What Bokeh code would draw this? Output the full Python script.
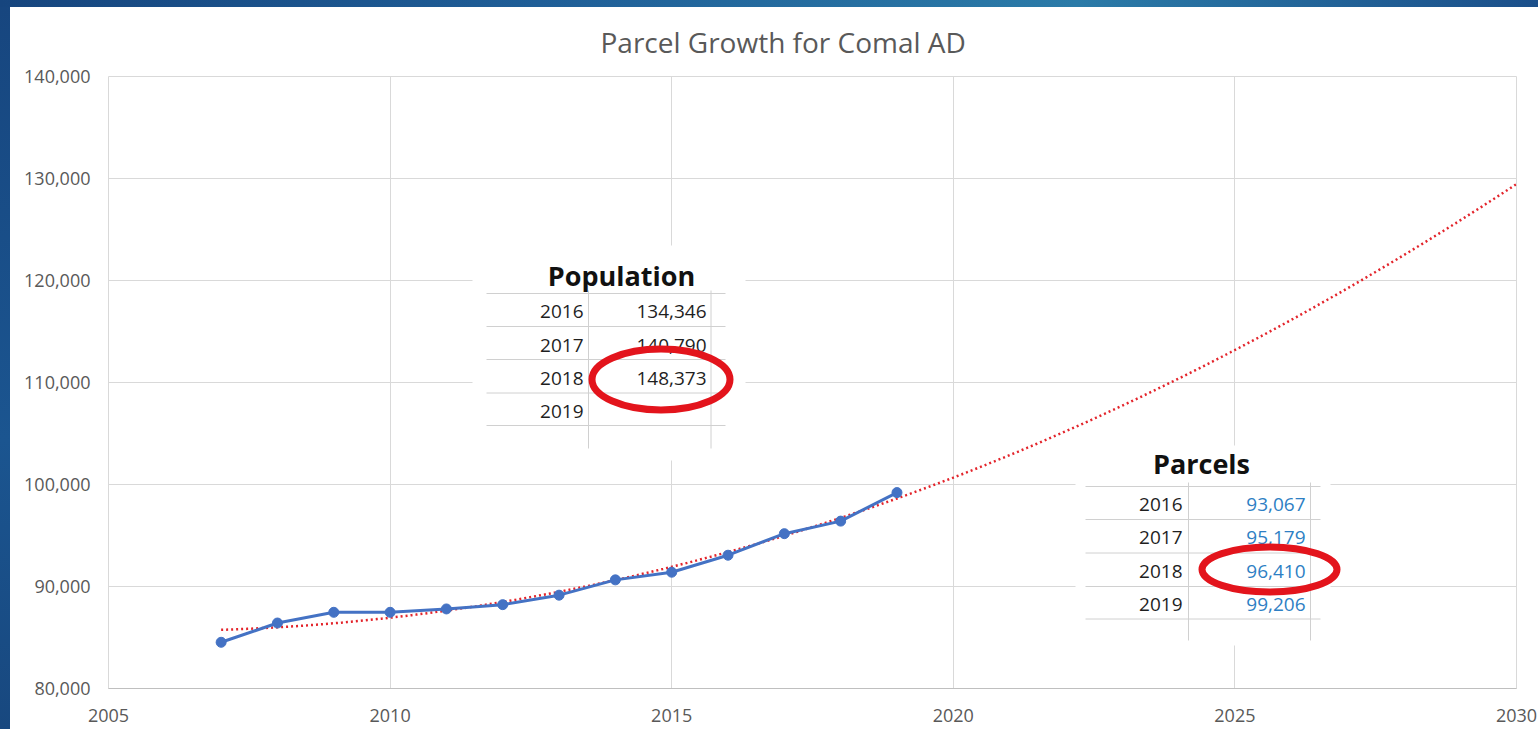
import numpy as np
from bokeh.plotting import figure
from bokeh.models import Range1d, FixedTicker, NumeralTickFormatter, Div
from bokeh.layouts import column, row
from bokeh.core.properties import value
from bokeh.embed import file_html
from bokeh.resources import INLINE

# ---------------- data ----------------
years = [2007, 2008, 2009, 2010, 2011, 2012, 2013, 2014, 2015, 2016, 2017, 2018, 2019]
parcels = [84530, 86420, 87470, 87470, 87800, 88220, 89150, 90650, 91400, 93067, 95179, 96410, 99206]

x_ticks = [2005, 2010, 2015, 2020, 2025, 2030]
y_ticks = [80000, 90000, 100000, 110000, 120000, 130000, 140000]

table_years = ["2016", "2017", "2018", "2019"]
population_vals = ["134,346", "140,790", "148,373", ""]
parcel_vals = ["93,067", "95,179", "96,410", "99,206"]

title_text = "Parcel Growth for Comal AD"

# polynomial (order 2) trendline fitted to the series, extended to 2030
coef = np.polyfit(years, parcels, 2)
trend_x = np.linspace(years[0], 2030, 300)
trend_y = np.polyval(coef, trend_x)

# ---------------- layout ----------------
OX, OY = 10, 7                 # figure origin on the page (after the blue strips)
W, H = 1528, 722
FL, FR, FT, FB = 108, 1516, 76, 688   # frame edges in page px


def X(px):
    return 2005 + (px - FL) * 25.0 / (FR - FL)


def Y(py):
    return 80000 + (FB - py) * 60000.0 / (FB - FT)


FONT = "Open Sans"

p = figure(width=W, height=H,
           x_range=Range1d(2005, 2030), y_range=Range1d(80000, 140000),
           output_backend="svg", toolbar_location=None,
           min_border_left=FL - OX, min_border_right=W - (FR - OX),
           min_border_top=FT - OY, min_border_bottom=H - (FB - OY),
           background_fill_color="white", border_fill_color="white",
           title=title_text)
p.outline_line_color = "#d9d9d9"

p.title.align = "left"
p.title.offset = 600 - FL
p.title.standoff = 28
p.title.vertical_align = "top"
p.title.text_font = FONT
p.title.text_font_size = "28px"
p.title.text_font_style = "normal"
p.title.text_color = "#595959"

p.xaxis.ticker = FixedTicker(ticks=x_ticks)
p.yaxis.ticker = FixedTicker(ticks=y_ticks)
p.xgrid.ticker = FixedTicker(ticks=x_ticks)
p.ygrid.ticker = FixedTicker(ticks=y_ticks)
p.xaxis.formatter = NumeralTickFormatter(format="0")
p.yaxis.formatter = NumeralTickFormatter(format="0,0")
for ax in (p.xaxis, p.yaxis):
    ax.major_tick_line_color = None
    ax.minor_tick_line_color = None
    ax.major_label_text_font = FONT
    ax.major_label_text_font_size = "18px"
    ax.major_label_text_color = "#595959"
p.xaxis.axis_line_color = "#bfbfbf"
p.yaxis.axis_line_color = None
p.xaxis.major_label_standoff = 14
p.yaxis.major_label_standoff = 12
p.xgrid.grid_line_color = "#d9d9d9"
p.ygrid.grid_line_color = "#d9d9d9"

# series + trendline
p.line(trend_x, trend_y, line_color="#e3242b", line_width=2.5, line_dash="2 3")
p.line(years, parcels, line_color="#4472c4", line_width=3)
p.scatter(years, parcels, size=10, fill_color="#4472c4", line_color="#4472c4")


def table(bg, title_xy, hlines, hx, vlines, vy, row_y, year_right, val_right,
          vals, val_color, ell, label):
    # white background (covers chart gridlines)
    p.quad(left=[X(bg[0])], right=[X(bg[1])], bottom=[Y(bg[3])], top=[Y(bg[2])],
           fill_color="white", line_color=None)
    # table rules
    p.segment(x0=[X(hx[0])] * len(hlines), x1=[X(hx[1])] * len(hlines),
              y0=[Y(h) for h in hlines], y1=[Y(h) for h in hlines],
              line_color="#d0d0d0", line_width=1)
    p.segment(x0=[X(v) for v in vlines], x1=[X(v) for v in vlines],
              y0=[Y(vy[0])] * len(vlines), y1=[Y(vy[1])] * len(vlines),
              line_color="#d0d0d0", line_width=1)
    # heading
    p.text(x=[X(title_xy[0])], y=[Y(title_xy[1])], text=[label],
           text_align="center", text_baseline="middle",
           text_font=value(FONT), text_font_style="bold",
           text_font_size="27px", text_color="#111111")
    ys = [Y(r) for r in row_y]
    p.text(x=[X(year_right)] * len(table_years), y=ys, text=table_years,
           text_align="right", text_baseline="middle", text_font=value(FONT),
           text_font_size="19px", text_color="#1f1f1f")
    p.text(x=[X(val_right)] * len(vals), y=ys, text=vals,
           text_align="right", text_baseline="middle", text_font=value(FONT),
           text_font_size="19px", text_color=val_color)
    # red highlight ellipse
    p.ellipse(x=[X(ell[0])], y=[Y(ell[1])], width=ell[2], height=ell[3],
              width_units="screen", height_units="screen",
              fill_color=None, line_color="#e3141c", line_width=7)


table(bg=(472, 745, 245, 460), title_xy=(621, 275),
      hlines=[293, 326, 359, 392.5, 425], hx=(486, 725),
      vlines=[588, 710.5], vy=(290, 448),
      row_y=[311, 344.5, 378, 411], year_right=583, val_right=706,
      vals=population_vals, val_color="#1f1f1f",
      ell=(660.5, 379, 138, 61), label="Population")

table(bg=(1075, 1330, 445, 645), title_xy=(1201, 463),
      hlines=[486, 519, 552.5, 586, 618.5], hx=(1085, 1320),
      vlines=[1188, 1310], vy=(482, 640),
      row_y=[504, 537, 570.5, 604], year_right=1182, val_right=1305,
      vals=parcel_vals, val_color="#2e7fc4",
      ell=(1269, 569, 135, 45), label="Parcels")

# slide background strips (top and left)
top_strip = Div(width=OX + W, height=OY, margin=0,
                styles={"background": "linear-gradient(90deg, #16457e 0%, #1f5e97 35%, #2b7ba8 70%, #1b4f8a 100%)"})
left_strip = Div(width=OX, height=H, margin=0,
                 styles={"background": "linear-gradient(180deg, #17467f 0%, #1b5590 60%, #18487f 100%)"})

layout = column(top_strip, row(left_strip, p, spacing=0), spacing=0)

open("out.html", "w").write(file_html(layout, INLINE))
